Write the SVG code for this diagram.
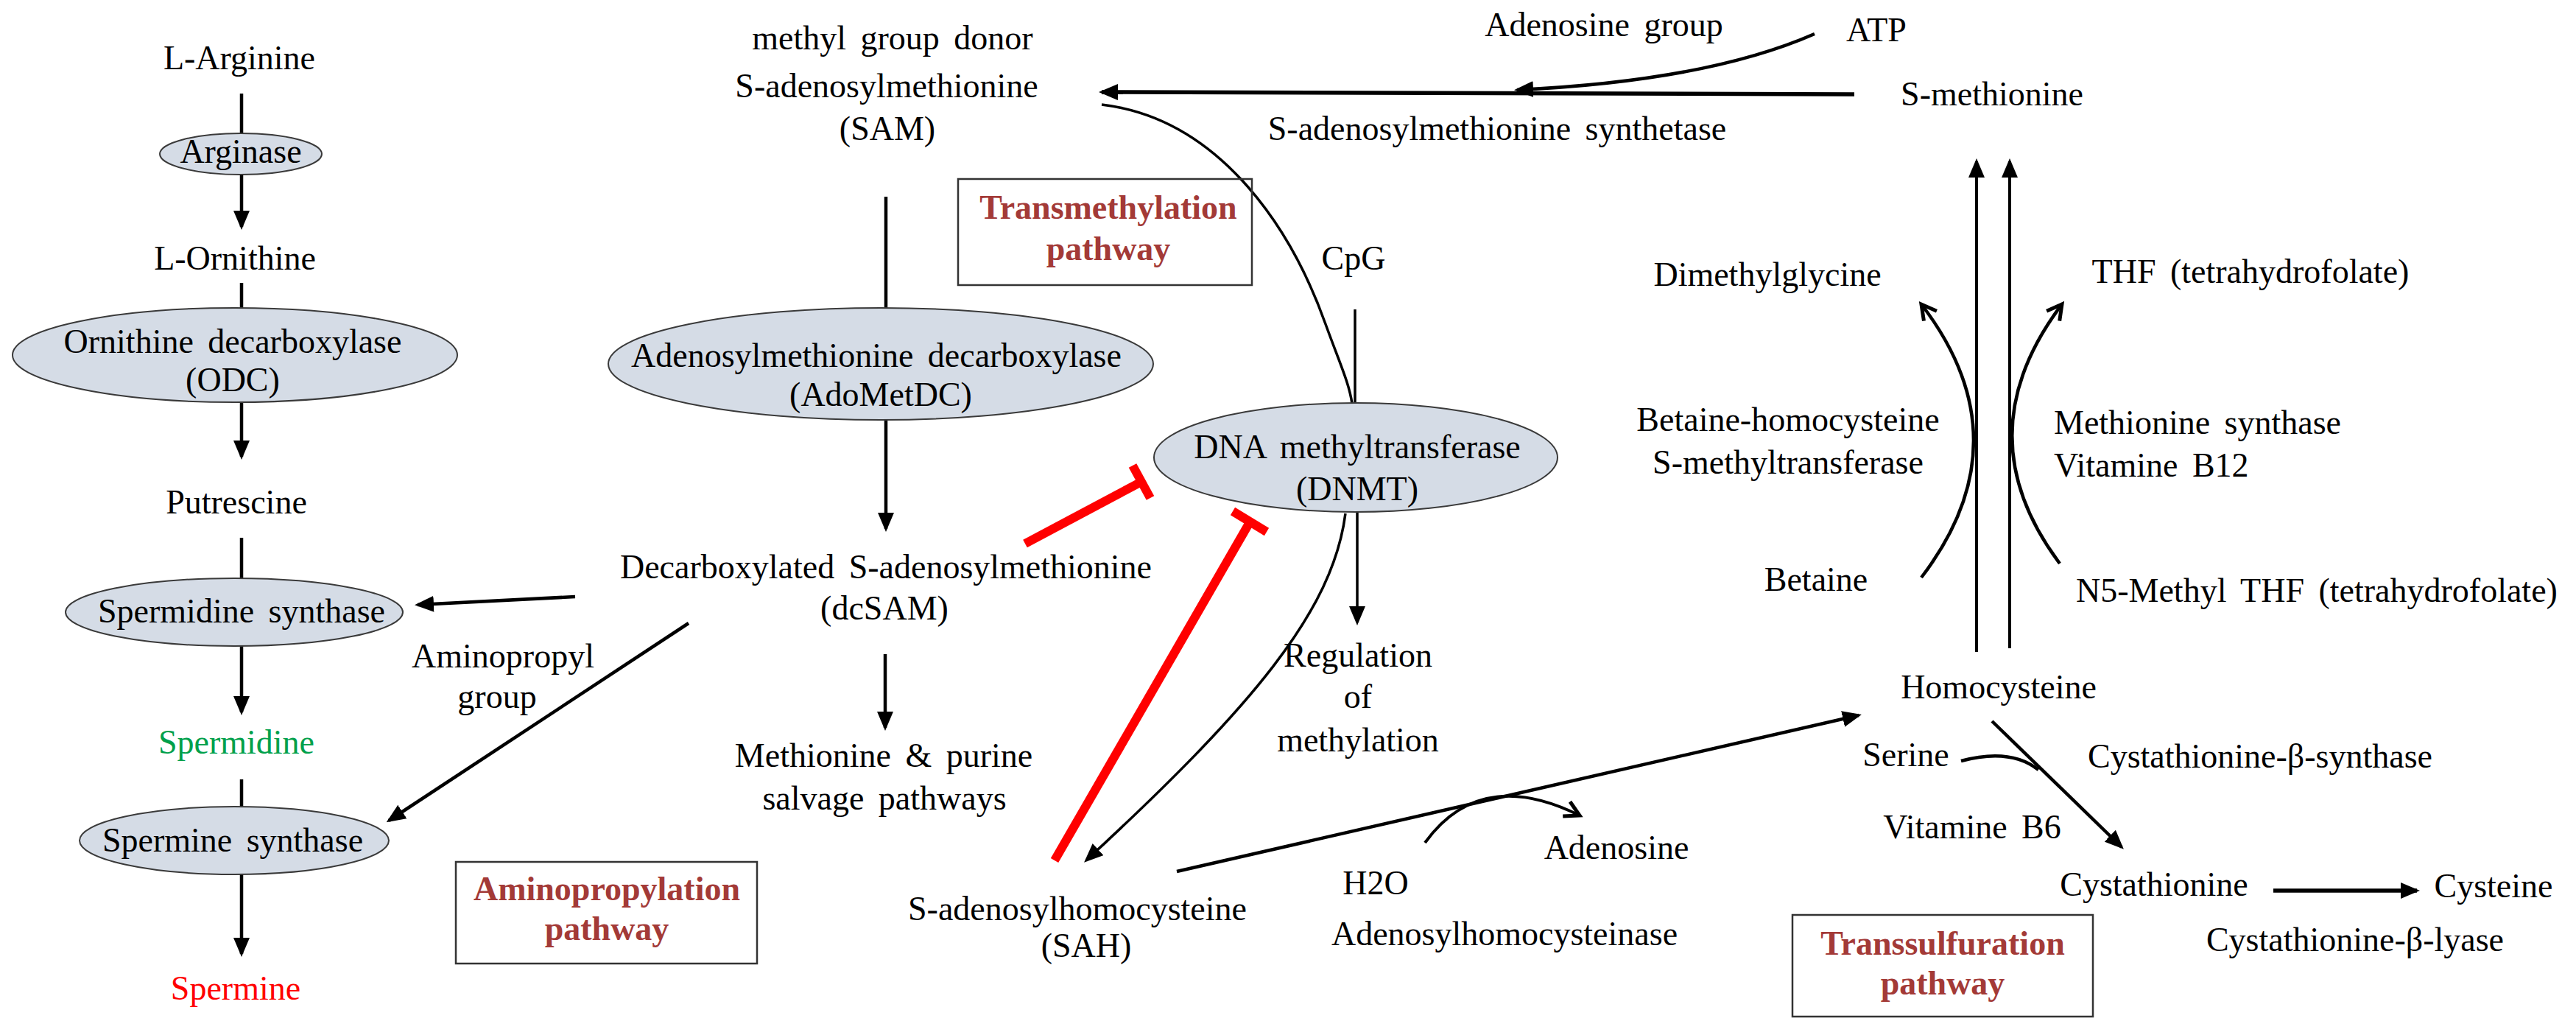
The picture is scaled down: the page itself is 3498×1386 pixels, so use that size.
<svg xmlns="http://www.w3.org/2000/svg" width="3498" height="1386" viewBox="0 0 3498 1386">
<defs>
<style>
.t{font-family:"Liberation Serif","Times New Roman",serif;font-size:46px;fill:#000;text-anchor:middle;word-spacing:8px}
.s{text-anchor:start}
.b{font-weight:bold;fill:#a33a37;word-spacing:0}
.en{fill:#d5dce6;stroke:#3a3a3a;stroke-width:2}
.box{fill:none;stroke:#333;stroke-width:2.5}
.a{fill:none;stroke:#000;stroke-width:4.5}
.ar{marker-end:url(#ah)}
.ao{marker-end:url(#ao)}
.inh{fill:none;stroke:#ff0000;stroke-width:12}
</style>
<marker id="ah" markerUnits="userSpaceOnUse" markerWidth="26" markerHeight="22" viewBox="0 0 26 22" refX="22" refY="11" orient="auto">
<path d="M0,0 L26,11 L0,22 z" fill="#000"/>
</marker>
<marker id="ao" markerUnits="userSpaceOnUse" markerWidth="30" markerHeight="30" viewBox="0 0 30 30" refX="24" refY="15" orient="auto">
<path d="M4,4 L24,15 L4,26" fill="none" stroke="#000" stroke-width="5"/>
</marker>
</defs>
<rect width="3498" height="1386" fill="#fff"/>

<g id="connectors">
<line class="a ar" x1="328" y1="127" x2="328" y2="308"/>
<line class="a ar" x1="328" y1="384" x2="328" y2="620"/>
<line class="a ar" x1="328" y1="730" x2="328" y2="967"/>
<line class="a ar" x1="328" y1="1058" x2="328" y2="1295"/>
<line class="a ar" x1="781" y1="810" x2="567" y2="821"/>
<line class="a ar" x1="935" y1="846" x2="528" y2="1114"/>
<line class="a ar" x1="1203" y1="267" x2="1203" y2="718"/>
<line class="a ar" x1="1202" y1="888" x2="1202" y2="988"/>
<line class="a ar" x1="2518" y1="128" x2="1496" y2="125" style="stroke-width:5.5"/>
<path class="a ar" d="M2464,46 Q2318,110 2060,122"/>
<path class="a" style="stroke-width:3.5" d="M1496,142 C1650,160 1750,300 1800,440 C1820,495 1832,520 1836,548"/>
<line class="a" x1="1840" y1="420" x2="1840" y2="548" style="stroke-width:3.5"/>
<line class="a ar" x1="1843" y1="695" x2="1843" y2="845" style="stroke-width:3.5"/>
<path class="a ar" style="stroke-width:3.5" d="M1827,697 C1810,830 1700,960 1475,1168"/>
<line class="a ar" x1="1598" y1="1183" x2="2524" y2="971"/>
<path class="a ao" style="stroke-width:4" d="M1935,1144 Q2010,1040 2145,1107"/>
<line class="a ar" x1="2684" y1="885" x2="2684" y2="219" style="stroke-width:4"/>
<line class="a ar" x1="2729" y1="880" x2="2729" y2="219" style="stroke-width:4"/>
<path class="a ao" d="M2609,784 Q2751,598 2609,413"/>
<path class="a ao" d="M2797,765 Q2666,590 2800,413"/>
<line class="a ar" x1="2705" y1="979" x2="2881" y2="1150"/>
<path class="a" d="M2663,1033 Q2730,1015 2768,1045"/>
<line class="a ar" x1="3087" y1="1209" x2="3282" y2="1209" style="stroke-width:5.5"/>
<line class="inh" x1="1392" y1="738" x2="1550" y2="654"/>
<line class="inh" x1="1538" y1="632" x2="1562" y2="676"/>
<line class="inh" x1="1432" y1="1168" x2="1697" y2="709"/>
<line class="inh" x1="1674" y1="694" x2="1720" y2="722"/>
</g>

<g id="n-larginine"><text class="t" x="325" y="94">L-Arginine</text></g>
<g id="n-arginase"><ellipse class="en" cx="327" cy="209" rx="110" ry="28"/><text class="t" x="327" y="221">Arginase</text></g>
<g id="n-lornithine"><text class="t" x="319" y="366">L-Ornithine</text></g>
<g id="n-odc"><ellipse class="en" cx="319" cy="482" rx="302" ry="64"/><text class="t" x="316" y="479">Ornithine decarboxylase</text><text class="t" x="316" y="531">(ODC)</text></g>
<g id="n-putrescine"><text class="t" x="321" y="697">Putrescine</text></g>
<g id="n-spdsyn"><ellipse class="en" cx="318" cy="831" rx="229" ry="46"/><text class="t" x="328" y="845">Spermidine synthase</text></g>
<g id="n-spermidine"><text class="t" style="fill:#00a04b" x="321" y="1023">Spermidine</text></g>
<g id="n-spmsyn"><ellipse class="en" cx="318" cy="1141" rx="210" ry="46"/><text class="t" x="316" y="1156">Spermine synthase</text></g>
<g id="n-spermine"><text class="t" style="fill:#ff0000" x="320" y="1357">Spermine</text></g>
<g id="n-aminopropyl"><text class="t" x="683" y="906">Aminopropyl</text><text class="t" x="675" y="961">group</text></g>
<g id="box-aminopropylation"><rect class="box" x="619" y="1170" width="409" height="138"/><text class="t b" x="824" y="1222">Aminopropylation</text><text class="t b" x="824" y="1276">pathway</text></g>

<g id="n-sam"><text class="t" x="1212" y="67">methyl group donor</text><text class="t" x="1204" y="132">S-adenosylmethionine</text><text class="t" x="1205" y="190">(SAM)</text></g>
<g id="n-adometdc"><ellipse class="en" cx="1196" cy="494" rx="370" ry="76"/><text class="t" x="1190" y="498">Adenosylmethionine decarboxylase</text><text class="t" x="1196" y="551">(AdoMetDC)</text></g>
<g id="n-dcsam"><text class="t" x="1203" y="785">Decarboxylated S-adenosylmethionine</text><text class="t" x="1201" y="841">(dcSAM)</text></g>
<g id="n-salvage"><text class="t" x="1200" y="1041">Methionine &amp; purine</text><text class="t" x="1201" y="1099">salvage pathways</text></g>
<g id="box-transmethylation"><rect class="box" x="1301" y="243" width="399" height="144"/><text class="t b" x="1505" y="297">Transmethylation</text><text class="t b" x="1505" y="353">pathway</text></g>

<g id="n-adenosinegroup"><text class="t" x="2178" y="49">Adenosine group</text></g>
<g id="n-atp"><text class="t" x="2548" y="56">ATP</text></g>
<g id="n-smethionine"><text class="t" x="2705" y="143">S-methionine</text></g>
<g id="n-samsynthetase"><text class="t" x="2033" y="190">S-adenosylmethionine synthetase</text></g>
<g id="n-cpg"><text class="t" x="1838" y="366">CpG</text></g>
<g id="n-dnmt"><ellipse class="en" cx="1841" cy="621" rx="274" ry="74"/><text class="t" x="1843" y="622">DNA methyltransferase</text><text class="t" x="1843" y="679">(DNMT)</text></g>
<g id="n-regulation"><text class="t" x="1844" y="905">Regulation</text><text class="t" x="1844" y="961">of</text><text class="t" x="1844" y="1020">methylation</text></g>
<g id="n-sah"><text class="t" x="1463" y="1249">S-adenosylhomocysteine</text><text class="t" x="1475" y="1299">(SAH)</text></g>
<g id="n-adenosine"><text class="t" x="2195" y="1166">Adenosine</text></g>
<g id="n-h2o"><text class="t" x="1868" y="1214">H2O</text></g>
<g id="n-ahcy"><text class="t" x="2043" y="1283">Adenosylhomocysteinase</text></g>

<g id="n-dimethylglycine"><text class="t" x="2400" y="388">Dimethylglycine</text></g>
<g id="n-thf"><text class="t" x="3056" y="384">THF (tetrahydrofolate)</text></g>
<g id="n-bhmt"><text class="t" x="2428" y="585">Betaine-homocysteine</text><text class="t" x="2428" y="643">S-methyltransferase</text></g>
<g id="n-ms"><text class="t s" x="2789" y="589">Methionine synthase</text><text class="t s" x="2789" y="647">Vitamine B12</text></g>
<g id="n-betaine"><text class="t" x="2466" y="802">Betaine</text></g>
<g id="n-n5methylthf"><text class="t s" x="2819" y="817">N5-Methyl THF (tetrahydrofolate)</text></g>
<g id="n-homocysteine"><text class="t" x="2714" y="948">Homocysteine</text></g>
<g id="n-serine"><text class="t" x="2588" y="1040">Serine</text></g>
<g id="n-cbs"><text class="t s" x="2835" y="1042">Cystathionine-β-synthase</text></g>
<g id="n-b6"><text class="t" x="2678" y="1138">Vitamine B6</text></g>
<g id="n-cystathionine"><text class="t" x="2925" y="1216">Cystathionine</text></g>
<g id="n-cysteine"><text class="t" x="3386" y="1218">Cysteine</text></g>
<g id="n-cgl"><text class="t" x="3198" y="1291">Cystathionine-β-lyase</text></g>
<g id="box-transsulfuration"><rect class="box" x="2434" y="1242" width="408" height="138"/><text class="t b" x="2638" y="1296">Transsulfuration</text><text class="t b" x="2638" y="1350">pathway</text></g>
</svg>
